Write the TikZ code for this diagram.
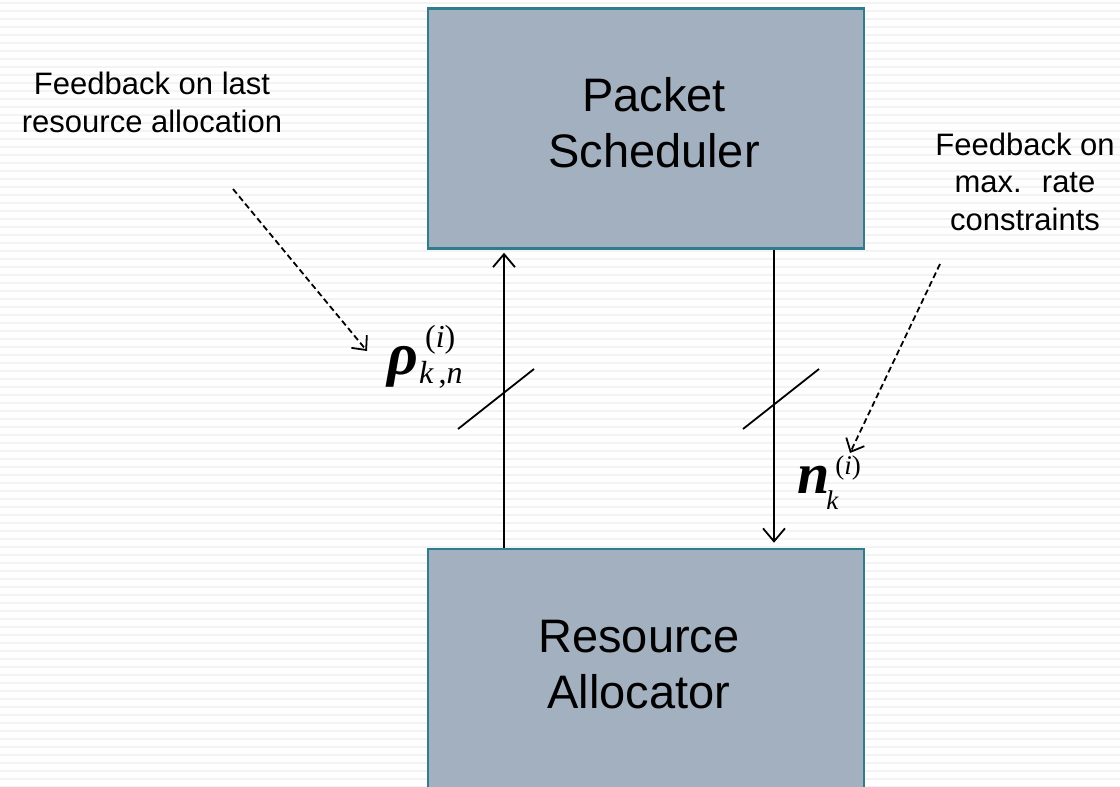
\documentclass[tikz,border=0pt]{standalone}
\usepackage{fontspec}
\setmainfont{Liberation Sans}
\newfontfamily\eqfont{Liberation Serif}
\usetikzlibrary{arrows.meta}
\definecolor{boxfill}{RGB}{162,176,192}
\definecolor{boxedge}{RGB}{46,124,140}
\definecolor{stripe}{RGB}{243,243,243}

\begin{document}
\begin{tikzpicture}[x=1pt,y=-1pt,
  block/.style={draw=boxedge, line width=2.5pt, fill=boxfill,
    minimum width=436pt, minimum height=240pt, inner sep=0pt},
  blocklabel/.style={font=\fontsize{47}{56}\selectfont, align=center, anchor=base, inner sep=0pt},
  note/.style={font=\fontsize{31}{37.5}\selectfont, align=center, anchor=base, inner sep=0pt},
  eqlabel/.style={anchor=base west, inner sep=0pt},
  flow/.style={line width=1.8pt, -{Straight Barb[length=13pt,width=22pt]}},
  hint/.style={line width=1.8pt, dash pattern=on 6pt off 3.5pt,
    -{Straight Barb[length=11pt,width=20pt]}},
  tick/.style={line width=1.8pt}]

% page and faint ruled background
\useasboundingbox (0,0) rectangle (1120,787);
\clip (0,0) rectangle (1120,787);
\fill[white] (0,0) rectangle (1120,787);
\foreach \y in {3,11,...,787} \draw[stripe, line width=2.5pt] (0,\y) -- (1120,\y);

% the two blocks (labels placed by the baseline of their last line)
\node[block] (sched) at (646,128.5) {};
\node[block, minimum height=260pt] (alloc) at (646,679) {};
\node[blocklabel] (schedtext) at (654,167) {Packet\\Scheduler};
\node[blocklabel] (alloctext) at (639,708) {Resource\\Allocator};

% signal lines between the blocks
\coordinate (upx) at (504,0);
\coordinate (downx) at (774,0);
\draw[flow, shorten >=3pt] (upx |- alloc.north) -- (upx |- sched.south);
\draw[flow, shorten >=5pt] (downx |- sched.south) -- (downx |- alloc.north);

% bus marks
\draw[tick] (458,429) -- (534,369);
\draw[tick] (743,429) -- (819,369);

% signal symbols
\node[eqlabel] (rho) at (387,374) {\eqfont\fontsize{60}{64}\selectfont\bfseries\itshape
  ρ\kern1pt\rlap{\kern6pt\raisebox{27pt}{\mdseries\fontsize{32}{36}\selectfont\upshape(\textit{i})}}%
  \raisebox{-9pt}{\mdseries\fontsize{32}{36}\selectfont k\,{\upshape,}n}};
\node[eqlabel] (nsym) at (797,493) {\eqfont\fontsize{58}{60}\selectfont\bfseries\itshape
  n\rlap{\kern6pt\raisebox{19pt}{\mdseries\fontsize{27}{30}\selectfont\upshape(\textit{i})}}%
  \kern-3pt\raisebox{-16pt}{\mdseries\fontsize{27}{30}\selectfont k}};

% feedback notes
\node[note] (fbleft) at (152,132) {Feedback on last\\resource allocation};
\node[note] (fbright) at (1025,230) {Feedback on\\max.~ rate\\constraints};
\coordinate (hintA) at (233,189);
\coordinate (hintAend) at (367,351);
\coordinate (hintB) at (940,264);
\coordinate (hintBend) at (850,453);
\draw[hint] (hintA) -- (hintAend);
\draw[hint] (hintB) -- (hintBend);
\end{tikzpicture}
\end{document}
